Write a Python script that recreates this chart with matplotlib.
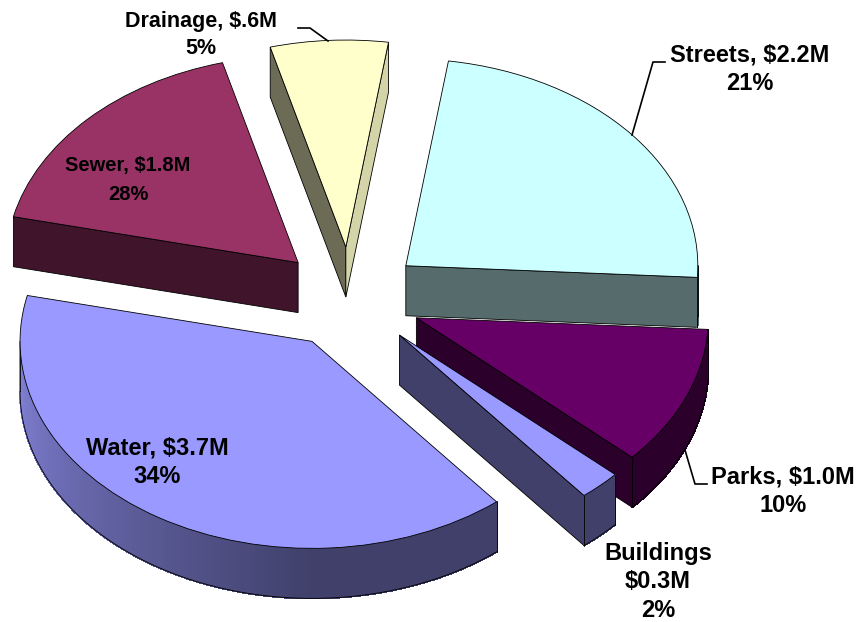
#!/usr/bin/env python3
"""Exploded 3D-style pie of the capital budget, drawn from flat patches."""

import matplotlib
matplotlib.use("Agg")
import matplotlib.pyplot as plt
import numpy as np
from matplotlib.patches import Polygon, Wedge

categories = ["Streets", "Parks", "Buildings", "Water", "Sewer", "Drainage"]
# slice sizes in $M, the printed labels differ a bit
slice_values = [2.21, 1.02, 0.22, 3.70, 1.62, 0.61]
slice_labels = [
    "Streets, $2.2M\n21%",
    "Parks, $1.0M\n10%",
    "Buildings\n$0.3M\n2%",
    "Water, $3.7M\n34%",
    "Sewer, $1.8M\n28%",
    "Drainage, $.6M\n5%",
]
top_colors = ["#CCFFFF", "#660066", "#9999FF", "#9999FF", "#993366", "#FFFFCC"]

W, H = 861, 622
CX, CY = 350, 298      # pie centre, pixels
RX, RY = 292, 207      # ellipse radii, pixels
DEPTH = 50 / RY
EXPLODE = 72 / RX
START = 8.4            # degrees clockwise from 12 o'clock
DARK, LIGHT = 0.42, 0.85

# painter's order, back to front
DRAW_ORDER = [5, 4, 1, 0, 3, 2]
# shade of the face on the clockwise end of each slice
END_SHADE = [DARK, DARK, DARK, DARK, DARK, 0.83]

LABEL_POS = [(750, 69), (783, 491), (658, 582), (157, 462), (128, 180), (201, 35)]
LABEL_SIZE = [17, 17, 17, 17, 14.5, 15.5]
LABEL_SPACING = [1.31, 1.31, 1.31, 1.31, 1.65, 1.35]
LEADERS = {
    0: [(632, 135), (653, 62), (665, 62)],
    1: [(685, 450), (695, 484), (707, 484)],
    5: [(298, 28), (310, 28), (328, 41)],
}


def to_xy(px, py):
    return (px - CX) / RX, (CY - py) / RY


def point(theta, center, r=1.0):
    t = np.radians(theta)
    return center[0] + r * np.sin(t), center[1] + r * np.cos(t)


def shaded(color, k):
    return tuple(c * k for c in matplotlib.colors.to_rgb(color))


def arc_shade(theta):
    return DARK + (LIGHT - DARK) * np.clip((theta - 180) / 90, 0, 1)


def draw_radial_face(ax, center, theta, color, z):
    x0, y0 = center
    x1, y1 = point(theta, center)
    ax.add_patch(Polygon([(x0, y0), (x1, y1), (x1, y1 - DEPTH), (x0, y0 - DEPTH)],
                         facecolor=color, edgecolor="black", linewidth=0.6, zorder=z))


def draw_arc_face(ax, center, t0, t1, color, z):
    # outer wall, only the part that faces the viewer
    t0, t1 = max(t0, 90), min(t1, 270)
    if t1 <= t0:
        return
    steps = np.linspace(t0, t1, int(t1 - t0) + 2)
    for a, b in zip(steps[:-1], steps[1:]):
        xa, ya = point(a, center)
        xb, yb = point(b, center)
        c = shaded(color, arc_shade((a + b) / 2))
        ax.add_patch(Polygon([(xa, ya), (xb, yb), (xb, yb - DEPTH), (xa, ya - DEPTH)],
                             facecolor=c, edgecolor=c, linewidth=0.8,
                             antialiased=False, zorder=z))
    xs, ys = zip(*[point(t, center) for t in steps])
    ax.plot(xs, np.array(ys) - DEPTH, color="black", linewidth=0.6, zorder=z)
    for t in (t0, t1):
        xv, yv = point(t, center)
        ax.plot([xv, xv], [yv, yv - DEPTH], color="black", linewidth=0.6, zorder=z)


def main():
    fig = plt.figure(figsize=(W / 100, H / 100), dpi=100)
    ax = fig.add_axes([0, 0, 1, 1])
    ax.set_xlim(-CX / RX, (W - CX) / RX)
    ax.set_ylim((CY - H) / RY, CY / RY)
    ax.axis("off")

    sweeps = np.array(slice_values) / sum(slice_values) * 360
    ends = START + np.cumsum(sweeps)
    starts = ends - sweeps

    for z, i in enumerate(DRAW_ORDER):
        t0, t1 = starts[i], ends[i]
        mid = np.radians((t0 + t1) / 2)
        center = (EXPLODE * np.sin(mid), EXPLODE * np.cos(mid))
        color = top_colors[i]
        z = z * 2 + 1

        # a face shows when its outward normal points down the screen
        if np.sin(np.radians(t0)) < 0:
            draw_radial_face(ax, center, t0, shaded(color, DARK), z)
        if np.sin(np.radians(t1)) > 0:
            draw_radial_face(ax, center, t1, shaded(color, END_SHADE[i]), z)
        draw_arc_face(ax, center, t0, t1, color, z)

        ax.add_patch(Wedge(center, 1, 90 - t1, 90 - t0, facecolor=color,
                           edgecolor="black", linewidth=0.6, zorder=z + 0.5))

    for i, pts in LEADERS.items():
        xs, ys = zip(*[to_xy(*p) for p in pts])
        ax.plot(xs, ys, color="black", linewidth=1.2, zorder=30)

    for label, pos, size, spacing in zip(slice_labels, LABEL_POS, LABEL_SIZE, LABEL_SPACING):
        x, y = to_xy(*pos)
        ax.text(x, y, label, ha="center", va="center", fontsize=size,
                fontweight="bold", family="Liberation Sans", color="black",
                linespacing=spacing, zorder=31)

    fig.savefig("out.png", dpi=100)


if __name__ == "__main__":
    main()
